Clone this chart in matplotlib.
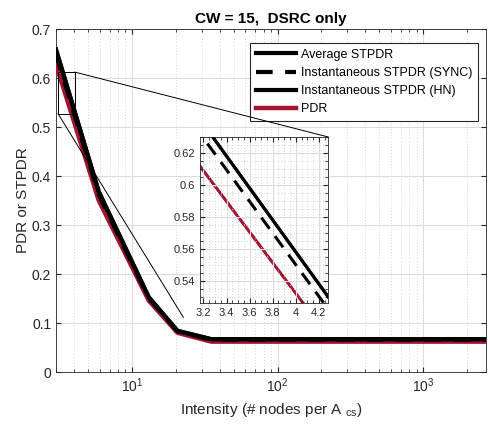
import numpy as np
import matplotlib
matplotlib.use("Agg")
import matplotlib.pyplot as plt
from matplotlib.ticker import MultipleLocator, FuncFormatter
from matplotlib.patches import Rectangle
from matplotlib.lines import Line2D

plt.rcParams['font.family'] = ['Liberation Sans', 'DejaVu Sans']
plt.rcParams['mathtext.fontset'] = 'custom'
plt.rcParams['mathtext.rm'] = 'Liberation Sans'

# valeurs
intensity = [3, 5.9, 13, 20.5, 35, 100, 1000, 2700]
avg_stpdr = [0.658, 0.368, 0.153, 0.084, 0.067, 0.067, 0.067, 0.067]
sync_stpdr = [0.649, 0.362, 0.151, 0.083, 0.066, 0.066, 0.066, 0.066]
hn_stpdr = [0.658, 0.368, 0.153, 0.084, 0.067, 0.067, 0.067, 0.067]
pdr = [0.628, 0.350, 0.146, 0.080, 0.062, 0.062, 0.062, 0.062]

labels = ['Average STPDR', 'Instantaneous STPDR (SYNC)',
          'Instantaneous STPDR (HN)', 'PDR']
red = '#A2142F'
axcol = '#262626'

def style_axes(ax, fs):
    ax.tick_params(which='both', direction='in', top=True, right=True,
                   colors=axcol, labelsize=fs, labelcolor=axcol)
    for s in ax.spines.values():
        s.set_color(axcol)
        s.set_linewidth(0.6)

fig = plt.figure(figsize=(4.89, 4.24), dpi=100)
ax = fig.add_axes([0.1145, 0.1226, 0.8794, 0.809])

ax.plot(intensity, avg_stpdr, color='k', lw=3, label=labels[0], zorder=4)
ax.plot(intensity, sync_stpdr, color='k', lw=3, ls=(0, (4, 3)), label=labels[1], zorder=4)
ax.plot(intensity, hn_stpdr, color='k', lw=3, label=labels[2], zorder=4)
ax.plot(intensity, pdr, color=red, lw=3.2, label=labels[3], zorder=3)

ax.set_xscale('log')
ax.set_xlim(3, 2700)
ax.set_ylim(0, 0.7)
ax.yaxis.set_major_locator(MultipleLocator(0.1))
ax.yaxis.set_major_formatter(FuncFormatter(lambda v, p: '%g' % round(v, 2)))
ax.grid(True, which='major', color='#dcdcdc', lw=0.8)
ax.grid(True, which='minor', axis='x', color='#c8c8c8', lw=0.6, ls=(0, (1, 2.5)))
style_axes(ax, 10)
ax.set_title('CW = 15,  DSRC only', fontsize=11, fontweight='bold', pad=4)
ax.set_xlabel('Intensity (# nodes per A $_{\\mathregular{cs}}$)', fontsize=11, color=axcol, labelpad=4)
ax.set_ylabel('PDR or STPDR', fontsize=11, color=axcol, labelpad=1)

leg = ax.legend(loc='upper right', bbox_to_anchor=(0.981, 0.959), fontsize=9,
                handlelength=3.2, handletextpad=0.4, borderpad=0.45,
                labelspacing=0.5, fancybox=False, framealpha=1, borderaxespad=0)
leg.get_frame().set_edgecolor(axcol)
leg.get_frame().set_linewidth(0.8)

# encart
ins = fig.add_axes([0.409, 0.285, 0.262, 0.392])
ins.plot(intensity, avg_stpdr, color='k', lw=2.2)
ins.plot(intensity, sync_stpdr, color='k', lw=2.2, ls=(0, (4.5, 3)))
ins.plot(intensity, hn_stpdr, color='k', lw=2.2)
ins.plot(intensity, pdr, color=red, lw=2.2, zorder=1)
ins.set_xlim(3.17, 4.28)
ins.set_ylim(0.526, 0.63)
ins.xaxis.set_major_locator(MultipleLocator(0.2))
ins.xaxis.set_minor_locator(MultipleLocator(0.05))
ins.yaxis.set_major_locator(MultipleLocator(0.02))
ins.yaxis.set_minor_locator(MultipleLocator(0.005))
fmt = FuncFormatter(lambda v, p: '%g' % round(v, 3))
ins.xaxis.set_major_formatter(fmt)
ins.yaxis.set_major_formatter(fmt)
ins.grid(True, which='major', color='#dcdcdc', lw=0.8)
ins.grid(True, which='minor', color='#c8c8c8', lw=0.6, ls=(0, (1, 2.5)))
style_axes(ins, 8)

# cadre de zoom et lignes de liaison
x0, x1, y0, y1 = 3.1, 4.05, 0.527, 0.612
ax.add_patch(Rectangle((x0, y0), x1 - x0, y1 - y0, fill=False, ec='k', lw=0.7, zorder=5))
to_fig = fig.transFigure.inverted()
for xy_a, xy_b in [((x1, y1), (1.0, 1.0)), ((x0, y0), (-0.13, -0.085))]:
    pa = to_fig.transform(ax.transData.transform(xy_a))
    pb = to_fig.transform(ins.transAxes.transform(xy_b))
    fig.add_artist(Line2D([pa[0], pb[0]], [pa[1], pb[1]], transform=fig.transFigure,
                          color='k', lw=0.7, zorder=5))

fig.savefig('out.png', dpi=100)
